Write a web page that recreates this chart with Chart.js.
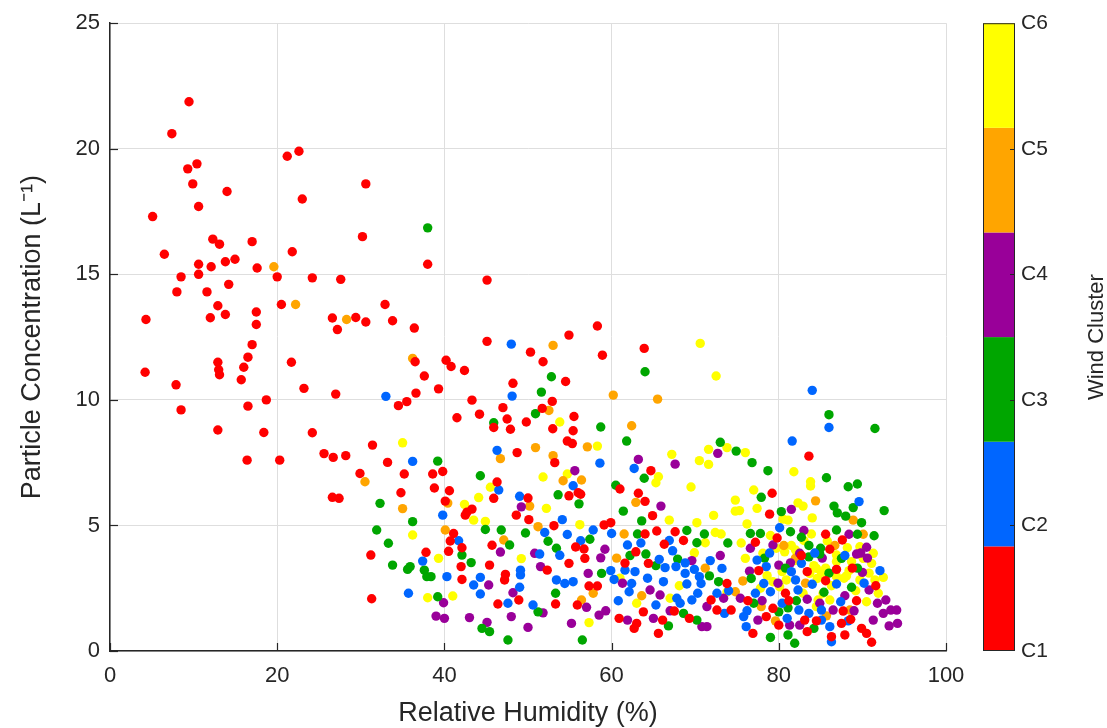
<!DOCTYPE html>
<html>
<head>
<meta charset="utf-8">
<script src="https://cdn.jsdelivr.net/npm/chart.js@4.4.1/dist/chart.umd.min.js"></script>
<style>
  html, body { margin: 0; padding: 0; background: #ffffff; }
  #wrap { width: 1107px; height: 728px; }
</style>
</head>
<body>
<div id="wrap"><canvas id="c" width="1107" height="728"></canvas></div>
<script>
// ---------- DATA (x = Relative Humidity %, y = Particle Concentration L^-1) ----------
const clusterLabels = ['C1', 'C2', 'C3', 'C4', 'C5', 'C6'];
const clusterColors = ['#ff0000', '#0066ff', '#00a600', '#990099', '#ffa500', '#ffff00'];
const xTickValues = [0, 20, 40, 60, 80, 100];
const yTickValues = [0, 5, 10, 15, 20, 25];

const c1 = [
  [9.45,21.87],[7.4,20.6],[21.2,19.7],[22.6,19.9],[10.4,19.4],[9.3,19.2],[9.9,18.6],[30.6,18.6],[14.0,18.3],[23.0,18.0],
  [10.6,17.7],[5.1,17.3],[30.2,16.5],[12.3,16.4],[13.1,16.2],[17.0,16.3],[6.5,15.8],[21.8,15.9],[10.6,15.4],[12.1,15.3],
  [13.8,15.5],[14.95,15.6],[17.6,15.25],[20.0,14.9],[24.2,14.86],[27.6,14.8],[8.5,14.9],[10.6,15.0],[8.0,14.3],[11.6,14.3],
  [14.2,14.6],[38.0,15.4],[45.1,14.77],
  [12.9,13.75],[4.3,13.2],[12.0,13.27],[13.8,13.4],[17.5,13.5],[17.5,13.0],[17.0,12.2],[20.5,13.8],[26.6,13.26],[27.2,12.8],
  [29.4,13.28],[30.6,13.1],[32.9,13.8],[33.8,13.15],[36.4,12.86],
  [4.2,11.1],[7.9,10.6],[8.5,9.6],[12.9,8.8],[12.9,11.5],[13.0,11.2],[13.1,11.0],[15.7,10.8],[16.0,11.3],[16.5,11.7],
  [16.5,9.75],[16.4,7.6],[18.7,10.0],[18.4,8.7],[20.3,7.6],[21.7,11.5],
  [58.3,12.94],[54.9,12.58],[45.1,12.33],[58.9,11.78],[50.3,11.9],[51.8,11.52],[36.5,11.52],[40.2,11.58],[40.8,11.33],[42.4,11.17],
  [37.6,10.95],[54.5,10.73],[48.2,10.66],[23.2,10.46],[27.0,10.23],[36.6,10.27],[39.3,10.44],[34.5,9.77],[35.5,9.93],[43.3,9.99],
  [52.9,9.94],[47.0,9.69],[51.7,9.66],[41.5,9.29],[44.2,9.43],[47.5,9.24],[49.8,9.12],[55.5,9.34],[45.9,8.9],[47.9,8.83],
  [52.96,8.85],[55.4,8.77],[24.2,8.69],[31.4,8.2],[25.6,7.86],[26.7,7.71],[28.2,7.78],[33.2,7.51],[54.7,8.36],[55.3,8.26],
  [48.7,7.9],[53.2,7.5],[29.9,7.07],[35.2,7.05],[38.6,7.05],[39.8,7.15],[46.3,6.73],[26.6,6.12],[27.4,6.08],[34.8,6.3],
  [38.8,6.49],[40.6,6.38],[45.9,6.08],[50.0,6.09],[54.9,6.18],[56.0,6.3],[56.3,6.24],[40.1,5.97],[42.7,5.53],[43.3,5.65],
  [42.5,5.41],[48.6,5.41],[50.1,5.23],[53.1,4.99],[59.1,5.02],[59.9,5.11],[41.1,4.68],[40.7,4.38],[42.1,4.11],[45.7,4.21],
  [55.7,4.14],[56.7,4.06],[31.2,3.82],[37.8,3.93],[40.5,3.97],[54.9,3.49],[56.8,3.69],[42.0,3.36],[42.1,2.85],[45.4,3.42],
  [47.3,3.05],[47.2,2.83],[52.3,3.22],[58.3,2.59],[57.3,2.59],[31.3,2.08],[46.4,1.87],[48.9,2.03],[53.3,1.87],[55.9,1.83],
  [63.9,12.05],
  [64.7,7.18],[61.0,6.45],[63.2,6.28],[64.0,5.96],[64.9,5.39],[65.4,4.78],[64.0,4.66],[67.6,4.75],[66.3,4.25],[62.9,3.95],
  [64.4,3.49],[73.8,2.69],[71.9,2.03],[72.6,1.63],[74.3,1.63],[67.5,1.59],[66.1,1.23],[63.8,1.56],[63.0,1.1],[65.6,0.7],
  [61.6,3.5],[69.3,1.3],[62.7,0.9],[68.6,4.4],[60.9,1.3],
  [83.6,7.76],[79.2,6.28],[78.9,5.45],[85.6,4.65],[77.2,4.33],[86.1,4.05],[87.6,4.42],[77.6,3.2],[83.4,3.16],[86.9,3.25],
  [80.8,2.3],[89.3,2.0],[87.7,1.59],[78.5,1.37],[80.0,1.03],[83.1,1.23],[87.5,1.1],[88.6,1.26],[89.9,0.9],[90.5,0.7],
  [91.1,0.35],[76.9,0.7],[83.4,0.77],[86.3,0.57],[87.9,0.64],
  [79.8,4.5],[81.2,2.0],[84.5,1.2],[85.6,2.8],[82.7,3.8],[88.8,3.3],[76.3,2.0],[91.6,2.6],[79.3,1.7]
];

const c2 = [
  [48.0,12.22],[33.0,10.14],[48.1,10.15],[36.2,7.55],[46.3,7.99],[58.6,7.48],[46.5,6.41],[55.4,6.58],[49.0,6.16],[39.8,5.41],
  [54.1,5.23],[52.0,4.72],[54.7,4.64],[57.8,4.82],[60.0,4.68],[41.7,4.39],[56.3,4.39],[37.4,3.58],[51.4,3.86],[53.8,3.81],
  [40.3,2.96],[43.5,2.63],[44.3,2.93],[49.1,3.22],[49.1,3.03],[49.0,2.54],[53.4,2.83],[55.4,2.76],[54.4,2.69],[59.9,3.2],
  [60.3,2.85],[35.7,2.3],[44.3,2.27],[47.6,1.9],[50.6,1.83],
  [62.7,7.27],[67.3,3.99],[61.9,4.22],[65.7,3.65],[66.4,3.32],[67.7,3.36],[68.8,3.51],[69.9,3.25],[70.5,2.96],[70.7,2.69],
  [70.3,2.3],[69.6,2.03],[68.8,3.09],[69.0,2.67],[73.2,3.29],[74.0,2.4],[72.6,2.3],[61.6,3.22],[62.8,3.16],[62.4,2.69],
  [62.1,2.36],[66.2,2.76],[65.3,1.83],[67.8,2.1],
  [63.5,4.3],[66.9,4.4],[71.8,3.6],[64.3,2.9],[60.8,2.0],[73.5,1.5],[68.2,1.9],
  [84.0,10.38],[86.0,8.9],[81.6,8.36],[89.6,5.95],[80.1,4.91],[77.4,3.62],[78.5,3.36],[82.7,3.49],[81.5,3.16],[92.1,3.2],
  [78.2,2.69],[82.0,2.83],[84.0,2.66],[86.9,2.67],[77.2,2.3],[79.0,2.36],[82.3,2.43],[87.4,1.96],[76.2,1.6],[82.4,1.63],
  [83.6,1.5],[85.1,1.63],[75.8,1.37],[85.1,1.23],[86.1,0.97],[76.1,0.97],[86.3,0.37],
  [80.4,1.9],[84.3,3.9],[87.9,3.8],[78.9,3.9],[81.0,1.3],[90.2,2.7],[88.3,1.2]
];

const c3 = [
  [38.0,16.85],
  [52.8,10.92],[51.6,10.31],[50.9,9.45],[45.9,9.09],[58.7,8.92],[39.2,7.56],[44.3,6.98],[53.6,6.22],[56.1,5.86],[32.3,5.88],
  [60.5,6.6],[36.2,5.15],[31.9,4.82],[44.9,4.84],[46.8,4.82],[49.7,4.7],[33.3,4.29],[47.8,4.22],[52.4,4.37],[53.4,4.09],
  [57.4,4.45],[42.1,3.82],[43.2,3.52],[33.8,3.42],[35.6,3.25],[35.9,3.36],[37.6,3.22],[37.9,2.96],[38.4,2.96],[58.8,3.09],
  [39.2,2.16],[51.2,1.56],[53.3,2.3],[44.5,0.9],[45.4,0.77],[47.6,0.44],[56.5,0.44],
  [64.0,11.12],
  [61.8,8.36],[73.0,8.31],[74.9,7.96],[63.9,6.88],[61.4,5.57],[63.6,5.18],[63.1,4.66],[70.2,4.31],[71.1,4.66],[64.1,3.86],
  [65.3,3.4],[67.9,3.66],[71.7,2.99],[72.8,2.76],[70.2,1.23],[68.6,1.5],
  [62.2,3.8],[66.8,1.0],[73.9,4.3],[69.0,4.8],
  [86.0,9.41],[91.5,8.86],[76.8,7.5],[78.7,7.18],[85.7,6.9],[88.3,6.54],[89.4,6.65],[77.9,6.12],[80.3,5.55],[86.6,5.77],
  [87.0,5.5],[88.0,5.37],[88.9,5.71],[92.6,5.59],[89.9,5.11],[76.6,4.68],[77.8,4.68],[81.4,4.75],[82.7,4.53],[86.9,4.82],
  [89.4,4.65],[91.4,4.59],[83.6,4.2],[83.6,3.75],[84.9,3.86],[87.5,3.69],[76.7,2.89],[85.4,2.34],[88.7,2.54],[80.0,1.56],
  [81.1,1.72],[79.0,0.54],[81.1,0.64],[81.9,0.31],[85.0,4.09],
  [78.3,3.7],[82.1,2.0],[86.0,3.1],[84.2,0.9],[80.8,3.3],[89.4,3.3],[77.0,1.9]
];

const c4 = [
  [55.6,7.18],[49.2,5.74],[59.2,4.05],[46.7,3.94],[50.8,3.89],[58.7,3.71],[45.3,2.63],[51.5,3.36],[57.2,3.09],[48.2,2.32],
  [39.9,1.92],[51.8,1.52],[57.0,1.74],[58.5,1.43],[59.3,1.6],[39.0,1.39],[40.0,1.3],[43.0,1.33],[45.1,1.14],[48.0,1.37],
  [50.0,0.94],[55.2,1.1],
  [72.7,7.87],[63.2,7.63],[67.6,7.44],[65.9,5.77],[71.4,1.77],[64.6,2.43],[65.8,2.23],[65.0,1.3],[61.9,1.23],[70.8,0.97],
  [71.4,0.97],
  [67.0,1.6],[61.3,2.7],[69.6,3.6],[73.0,3.8],
  [81.5,5.64],[88.4,4.65],[76.6,4.09],[79.3,4.22],[89.3,3.86],[90.5,4.13],[80.0,3.42],[81.4,3.51],[76.5,3.18],[90.0,3.13],
  [90.8,2.43],[92.8,2.03],[93.4,1.63],[94.1,1.63],[92.5,1.5],[91.3,1.23],[93.2,1.0],[94.2,1.1],[73.4,2.1],[75.4,2.1],
  [83.4,2.06],[86.5,1.63],[77.5,1.23],[81.3,1.03],[82.5,1.03],[82.5,3.89],
  [89.8,3.9],[90.6,3.7],[78.0,2.0],[79.9,2.7],[84.9,1.9],[87.9,2.2],[85.2,3.7],[83.0,4.8],[91.8,1.9],[89.0,1.6]
];

const c5 = [
  [19.6,15.3],[22.2,13.8],[28.3,13.2],
  [53.0,12.17],[36.2,11.65],[52.5,9.58],[60.2,10.19],[57.1,8.13],[50.9,8.1],[46.7,7.66],[53.0,7.78],[30.5,6.74],[54.2,6.78],
  [56.4,6.81],[35.0,5.67],[40.4,5.89],[50.2,5.77],[40.1,4.82],[51.2,4.95],[47.1,4.42],[56.4,2.03],[57.8,2.3],
  [65.5,10.03],[62.4,8.97],[62.9,5.92],[61.5,4.66],
  [63.6,2.2],[60.6,3.7],[71.2,3.3],
  [84.4,5.98],[88.9,5.21],[90.1,4.65],[75.7,2.79],[74.8,2.36],[77.9,1.77],[88.5,1.63],
  [82.0,3.7],[86.7,4.2],[80.6,4.2],[79.6,1.2],[85.7,1.4],[83.2,2.7]
];

const c6 = [
  [53.8,9.12],[35.0,8.29],[58.3,8.16],[45.5,6.52],[51.8,6.93],[54.7,7.05],[44.1,6.11],[42.4,5.84],[52.2,5.68],[43.5,5.21],
  [44.9,5.16],[56.2,5.03],[36.2,4.62],[39.3,3.69],[49.2,3.68],[38.0,2.12],[41.0,2.19],[57.3,1.13],
  [70.6,12.25],[72.5,10.95],
  [67.2,7.83],[71.6,8.03],[70.5,7.58],[71.6,7.43],[65.6,6.94],[65.3,6.7],[69.5,6.53],[66.9,5.21],[74.8,6.01],[74.8,5.57],
  [70.2,5.11],[72.4,4.72],[73.1,4.66],[71.2,4.31],[69.9,3.91],[67.0,2.1],
  [63.0,1.9],[68.1,2.6],[61.0,2.9],[72.2,5.4],
  [73.8,8.1],[76.0,7.9],[81.8,7.14],[83.8,6.74],[83.8,6.57],[77.0,6.41],[75.3,5.59],[77.4,5.68],[82.9,5.77],[76.2,5.06],
  [80.5,5.25],[81.1,5.21],[83.9,4.66],[78.1,3.89],[79.7,4.09],[81.5,4.2],[82.0,4.02],[85.8,4.38],[88.2,4.11],[89.7,4.15],
  [76.0,3.69],[86.9,3.56],[88.7,3.56],[91.1,3.49],[80.4,3.16],[84.5,3.29],[85.1,3.12],[88.1,2.99],[92.5,2.93],[91.5,2.83],
  [79.3,2.76],[91.9,2.3],[73.8,2.35],[84.7,2.03],[86.1,2.03],[90.5,1.96],[90.1,3.69],[86.9,3.82],[80.7,3.95],[83.7,3.09],
  [84.6,2.89],[85.3,2.3],[86.9,2.96],[91.3,3.89],[80.1,2.56],[82.9,2.3],[84.5,1.77],[80.9,2.83],[89.7,2.83],
  [84.2,3.4],[85.6,3.3],[87.8,2.9],[88.4,3.2],[79.0,4.6],[78.6,3.0],[83.0,4.4],[81.9,3.6],[86.3,2.6],[90.8,3.1],
  [89.2,2.4],[77.8,2.5],[75.5,4.3],[84.0,5.3],[82.3,5.9]
];

const clusterData = [c1, c2, c3, c4, c5, c6];

// ---------- STYLE ----------
const FONT = '"Liberation Sans", Arial, Helvetica, sans-serif';
const TEXT = '#262626';
const AXIS = '#262626';
const GRID = '#dedede';

// inward tick marks + colorbar
const extras = {
  id: 'extras',
  afterDraw(chart) {
    const ctx = chart.ctx;
    const xs = chart.scales.x, ys = chart.scales.y, cb = chart.scales.cb;
    const area = chart.chartArea;
    ctx.save();
    ctx.strokeStyle = AXIS;
    ctx.lineWidth = 1.2;
    xTickValues.forEach(v => {
      const px = Math.round(xs.getPixelForValue(v)) + 0.5;
      ctx.beginPath(); ctx.moveTo(px, area.bottom); ctx.lineTo(px, area.bottom - 8); ctx.stroke();
    });
    yTickValues.forEach(v => {
      const py = Math.round(ys.getPixelForValue(v)) + 0.5;
      ctx.beginPath(); ctx.moveTo(area.left, py); ctx.lineTo(area.left + 8, py); ctx.stroke();
    });

    // colorbar
    const x0 = area.right + 37, w = 32;
    const n = clusterColors.length;
    const span = (cb.max - cb.min) / n;
    for (let k = 0; k < n; k++) {
      const yb = cb.getPixelForValue(cb.min + k * span);
      const yt = cb.getPixelForValue(cb.min + (k + 1) * span);
      ctx.fillStyle = clusterColors[k];
      ctx.fillRect(x0, yt, w, yb - yt);
    }
    const top = cb.getPixelForValue(cb.max), bot = cb.getPixelForValue(cb.min);
    ctx.strokeStyle = AXIS; ctx.lineWidth = 1;
    ctx.strokeRect(x0 + 0.5, top + 0.5, w - 1, bot - top - 1);
    ctx.fillStyle = TEXT;
    ctx.font = '21px ' + FONT;
    ctx.textAlign = 'left';
    ctx.textBaseline = 'middle';
    clusterLabels.forEach((lab, i) => {
      const py = cb.getPixelForValue(i + 1);
      if (i > 0 && i < n - 1) {
        ctx.beginPath(); ctx.moveTo(x0 + w, Math.round(py) + 0.5); ctx.lineTo(x0 + w - 5, Math.round(py) + 0.5); ctx.stroke();
      }
      ctx.fillText(lab, x0 + w + 6, py);
    });
    ctx.save();
    ctx.translate(area.right + 151, (top + bot) / 2);
    ctx.rotate(-Math.PI / 2);
    ctx.textAlign = 'center';
    ctx.textBaseline = 'middle';
    ctx.font = '22px ' + FONT;
    ctx.fillText('Wind Cluster', 0, 0);
    ctx.restore();
    ctx.restore();
  }
};

const ctx = document.getElementById('c').getContext('2d');
new Chart(ctx, {
  type: 'scatter',
  data: {
    datasets: clusterData.map((pts, i) => ({
      label: clusterLabels[i],
      data: pts.map(p => ({ x: p[0], y: p[1] })),
      backgroundColor: clusterColors[i],
      borderWidth: 0,
      pointRadius: 4.7,
      pointHoverRadius: 4.7
    }))
  },
  options: {
    responsive: false,
    animation: false,
    devicePixelRatio: 1,
    layout: { padding: { top: 23, right: 161, left: 0, bottom: 0 } },
    plugins: { legend: { display: false }, tooltip: { enabled: false } },
    scales: {
      x: {
        type: 'linear', min: 0, max: 100,
        afterBuildTicks: s => { s.ticks = xTickValues.map(v => ({ value: v })); },
        ticks: { color: TEXT, font: { family: FONT, size: 22 }, padding: 12, maxRotation: 0 },
        grid: { color: GRID, lineWidth: 1, drawTicks: false },
        border: { display: true, color: AXIS, width: 1.5 },
        title: { display: true, text: 'Relative Humidity (%)', color: TEXT,
                 font: { family: FONT, size: 27, lineHeight: 1.1 }, padding: { top: 0, bottom: 0 } },
        afterFit: s => { s.height = 77; }
      },
      y: {
        type: 'linear', min: 0, max: 25,
        afterBuildTicks: s => { s.ticks = yTickValues.map(v => ({ value: v })); },
        ticks: { color: TEXT, font: { family: FONT, size: 22 }, padding: 10 },
        grid: { color: GRID, lineWidth: 1, drawTicks: false },
        border: { display: true, color: AXIS, width: 1.5 },
        title: { display: true, text: 'Particle Concentration (L\u207B\u00B9)', color: TEXT,
                 font: { family: FONT, size: 27, lineHeight: 1.1 }, padding: { top: 18, bottom: 0 } },
        afterFit: s => { s.width = 110; }
      },
      cb: {
        type: 'linear', axis: 'y', position: 'right', display: false, min: 1, max: 6
      }
    }
  },
  plugins: [extras]
});
</script>
</body>
</html>
